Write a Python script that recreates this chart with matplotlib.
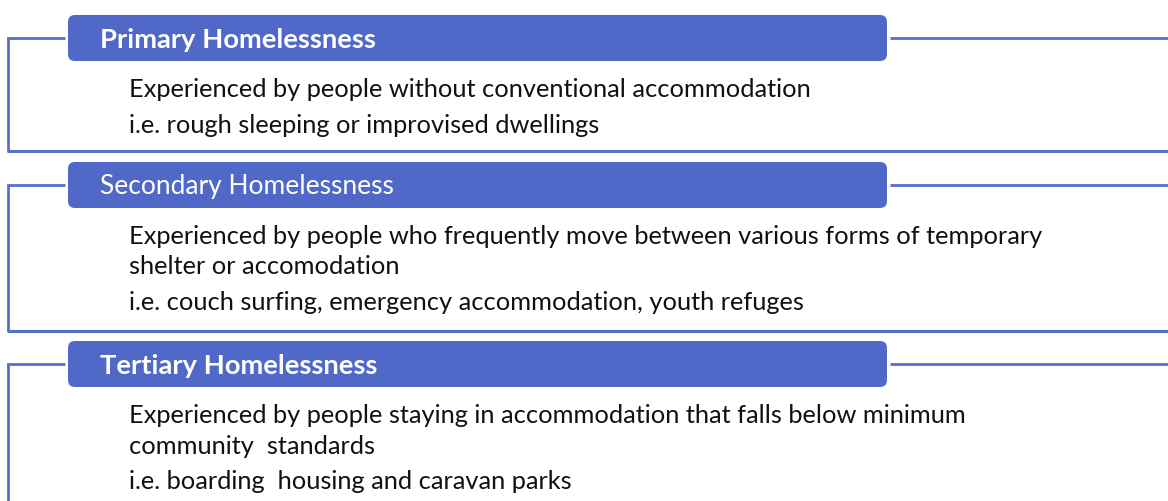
import matplotlib
matplotlib.use("Agg")
import matplotlib.pyplot as plt
from matplotlib.patches import FancyBboxPatch

# ------------------------------------------------------------------
# Content
# ------------------------------------------------------------------
titles = ["Primary Homelessness", "Secondary Homelessness", "Tertiary Homelessness"]
title_bold = [True, False, True]
descriptions = [
    ["Experienced by people without conventional accommodation"],
    ["Experienced by people who frequently move between various forms of temporary",
     "shelter or accomodation"],
    ["Experienced by people staying in accommodation that falls below minimum",
     "community  standards"],
]
examples = [
    "i.e. rough sleeping or improvised dwellings",
    "i.e. couch surfing, emergency accommodation, youth refuges",
    "i.e. boarding  housing and caravan parks",
]

# ------------------------------------------------------------------
# Layout (pixels, y down)
# ------------------------------------------------------------------
W, H = 1168, 501
BOX_COLOR = "#5069C9"
LINE_COLOR = "#5570CC"
header_top = [15, 162, 341]
section_bottom = [151, 331, None]
HEADER_H = 46
BOX_X0, BOX_X1 = 68, 887
LEFT_X = 8
TEXT_X = 129
LINE_STEP = 30.5
FONT = ["Lato", "DejaVu Sans"]
FS_BODY = 18.3
FS_HEAD = 19
FS_HEAD_BOLD = 19.7

fig = plt.figure(figsize=(W / 100, H / 100), dpi=100)
ax = fig.add_axes([0, 0, 1, 1])
ax.set_xlim(0, W)
ax.set_ylim(H, 0)
ax.set_axis_off()

for i, title in enumerate(titles):
    top = header_top[i]
    mid = top + HEADER_H / 2
    bottom = section_bottom[i] if section_bottom[i] is not None else H + 5

    # bracket: left side, top stub, right tail, bottom rule
    ax.plot([BOX_X0 - 3, LEFT_X, LEFT_X], [mid, mid, bottom], color=LINE_COLOR, lw=2,
            solid_capstyle="butt", solid_joinstyle="miter")
    ax.plot([BOX_X1 + 3, W], [mid, mid], color=LINE_COLOR, lw=2, solid_capstyle="butt")
    if section_bottom[i] is not None:
        ax.plot([LEFT_X - 1, W], [bottom, bottom], color=LINE_COLOR, lw=2.2,
                solid_capstyle="butt")

    ax.add_patch(FancyBboxPatch((BOX_X0, top), BOX_X1 - BOX_X0, HEADER_H,
                                boxstyle="round,pad=0,rounding_size=7",
                                facecolor=BOX_COLOR, edgecolor="none"))
    ax.text(100, mid + 1.5, title, color="white",
            fontsize=FS_HEAD_BOLD if title_bold[i] else FS_HEAD,
            fontweight="bold" if title_bold[i] else "normal",
            family=FONT, ha="left", va="center")

    y = mid + 51.5
    for line in descriptions[i]:
        ax.text(TEXT_X, y, line, color="#111111", fontsize=FS_BODY, family=FONT,
                ha="left", va="center")
        y += LINE_STEP
    y += 5
    ax.text(TEXT_X, y, examples[i], color="#111111", fontsize=FS_BODY, family=FONT,
            ha="left", va="center")

fig.savefig("out.png", dpi=100, facecolor="white")
